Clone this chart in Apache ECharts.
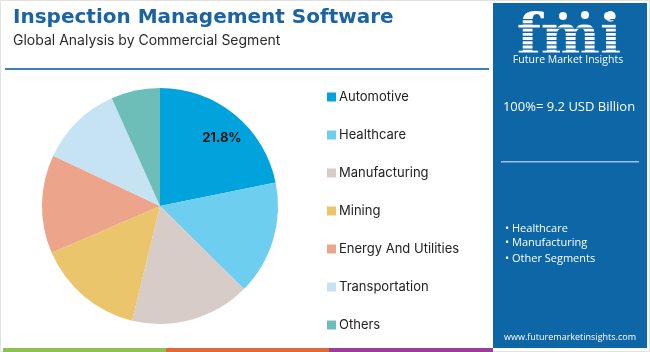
<!DOCTYPE html>
<html>
<head>
<meta charset="utf-8">
<script src="https://cdn.jsdelivr.net/npm/echarts@6/dist/echarts.min.js"></script>
<style>
  html, body { margin: 0; padding: 0; background: #fff; }
  #main { width: 650px; height: 352px; }
</style>
</head>
<body>
<div id="main"></div>
<script>
// segments and their share of the market (%)
var categories = ['Automotive', 'Healthcare', 'Manufacturing', 'Mining', 'Energy And Utilities', 'Transportation', 'Others'];
var shares = [21.8, 15.6, 16.4, 14.7, 13.5, 11.3, 6.7];
var sliceColors = ['#00A3DC', '#6DCEF0', '#D7CCC8', '#EBC56B', '#ECA48B', '#C6E3F3', '#6DBDB8'];
var labelled = ['Automotive'];
var panelBullets = ['• Healthcare', '• Manufacturing', '• Other Segments'];
var panelHeadline = '100%= 9.2 USD Billion';

var panelBlue = '#0D66A6';

function buildData() {
    return categories.map(function (name, i) {
        return { name: name, value: shares[i], itemStyle: { color: sliceColors[i] } };
    });
}

function buildGraphics() {
    var g = [];
    // frame
    g.push({ type: 'rect', shape: { x: 0.5, y: 0.5, width: 649, height: 351 }, style: { fill: 'none', stroke: '#e2e2e2', lineWidth: 1 }, silent: true });
    // line under heading
    g.push({ type: 'rect', shape: { x: 5, y: 68, width: 484, height: 2 }, style: { fill: '#3C80BB' }, silent: true });
    // bottom stripes
    g.push({ type: 'rect', shape: { x: 3, y: 348, width: 163, height: 4 }, style: { fill: '#8DC153' }, silent: true });
    g.push({ type: 'rect', shape: { x: 166, y: 348, width: 163, height: 4 }, style: { fill: '#E0693A' }, silent: true });
    g.push({ type: 'rect', shape: { x: 329, y: 348, width: 164, height: 4 }, style: { fill: '#9A3E9B' }, silent: true });
    // side panel
    g.push({ type: 'rect', shape: { x: 493, y: 3, width: 154, height: 345 }, style: { fill: panelBlue }, silent: true });
    // logo
    g.push({ type: 'text', style: { x: 569, y: 67, text: 'fmi', fill: '#ffffff', font: 'bold 56px "DejaVu Serif"', textAlign: 'center', textVerticalAlign: 'bottom' }, silent: true });
    for (var k = 0; k < 9; k++) {
        g.push({ type: 'rect', shape: { x: 510, y: 19 + k * 4.2, width: 118, height: 1.3 }, style: { fill: panelBlue }, silent: true });
    }
    g.push({ type: 'circle', shape: { cx: 563, cy: 16, r: 4 }, style: { fill: '#ffffff' }, silent: true });
    g.push({ type: 'circle', shape: { cx: 585, cy: 15, r: 4 }, style: { fill: '#ffffff' }, silent: true });
    g.push({ type: 'circle', shape: { cx: 608, cy: 16, r: 4 }, style: { fill: '#ffffff' }, silent: true });
    g.push({ type: 'text', style: { x: 568, y: 60, text: 'Future Market Insights', fill: '#ffffff', font: '10.5px "Open Sans"', textAlign: 'center', textVerticalAlign: 'middle' }, silent: true });
    // headline
    g.push({ type: 'text', style: { x: 569, y: 107, text: panelHeadline, fill: '#ffffff', font: '13px "Open Sans"', textAlign: 'center', textVerticalAlign: 'middle' }, silent: true });
    g.push({ type: 'rect', shape: { x: 501, y: 161, width: 138, height: 1.5 }, style: { fill: '#9CC3E3' }, silent: true });
    // bullets
    var bulletY = [229, 243, 259];
    panelBullets.forEach(function (t, i) {
        g.push({ type: 'text', style: { x: 505, y: bulletY[i], text: t, fill: '#ffffff', font: '11px "Open Sans"', textVerticalAlign: 'middle' }, silent: true });
    });
    g.push({ type: 'text', style: { x: 570, y: 337, text: 'www.futuremarketinsights.com', fill: '#ffffff', font: '9px "Open Sans"', textAlign: 'center', textVerticalAlign: 'middle' }, silent: true });
    return g;
}

function buildOption() {
    return {
        animation: false,
        title: {
            text: 'Inspection Management Software',
            subtext: 'Global Analysis by Commercial Segment',
            left: 8,
            top: 3,
            itemGap: 6,
            textStyle: { fontFamily: 'DejaVu Sans', fontWeight: 'bold', fontSize: 20, color: '#1A64A3' },
            subtextStyle: { fontFamily: 'Inter', fontSize: 14, color: '#2b2b2b' }
        },
        legend: {
            orient: 'vertical',
            left: 322,
            top: 83,
            icon: 'rect',
            itemWidth: 9,
            itemHeight: 9,
            itemGap: 20,
            data: categories,
            textStyle: { fontFamily: 'Inter', fontSize: 13, color: '#222', lineHeight: 18, padding: [0, 0, 0, -2] },
            selectedMode: false
        },
        graphic: buildGraphics(),
        series: [
            {
                type: 'pie',
                center: [160, 206],
                radius: [0, 118],
                startAngle: 90,
                clockwise: true,
                data: buildData(),
                label: { show: false },
                labelLine: { show: false },
                emphasis: { disabled: true },
                silent: true
            },
            {
                // transparent ring that only carries the slice label
                type: 'pie',
                center: [160, 206],
                radius: [60, 118],
                startAngle: 87,
                clockwise: true,
                data: buildData().map(function (d) {
                    return { name: d.name, value: d.value, itemStyle: { color: 'rgba(0,0,0,0)' } };
                }),
                label: {
                    show: true,
                    position: 'inside',
                    fontFamily: 'Inter',
                    fontWeight: 'bold',
                    fontSize: 13,
                    color: '#111',
                    formatter: function (p) {
                        return labelled.indexOf(p.name) >= 0 ? p.value + '%' : '';
                    }
                },
                labelLine: { show: false },
                emphasis: { disabled: true },
                legendHoverLink: false,
                silent: true,
                z: 3
            }
        ]
    };
}

var chart = echarts.init(document.getElementById('main'));
chart.setOption(buildOption());
</script>
</body>
</html>
